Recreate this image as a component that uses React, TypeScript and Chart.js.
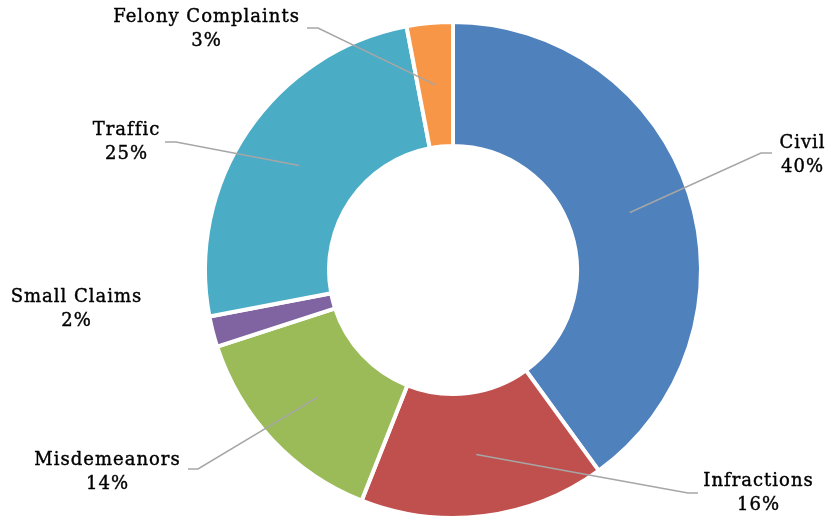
import React, { useEffect, useRef } from "react";
import { Chart, registerables } from "chart.js";

Chart.register(...registerables);

const categories = ["Civil", "Infractions", "Misdemeanors", "Small Claims", "Traffic", "Felony Complaints"];
const shares = [40, 16, 14, 2, 25, 3];
const percentLabels = ["40%", "16%", "14%", "2%", "25%", "3%"];
const sliceColors = ["#4F81BD", "#C0504D", "#9BBB59", "#8064A2", "#4BACC6", "#F79646"];

// label placement relative to the doughnut centre (text centre, elbow, line end)
const labelLayout = [
  { tx: 349, ty: -115, ex: 308, ey: -117, lx: 319, line: true },
  { tx: 305, ty: 223, ex: 235, ey: 223, lx: 245, line: true },
  { tx: -346, ty: 202, ex: -255, ey: 199, lx: -265, line: true },
  { tx: -377, ty: 39, ex: 0, ey: 0, lx: 0, line: false },
  { tx: -327, ty: -128, ex: -277, ey: -128, lx: -288, line: true },
  { tx: -247, ty: -241, ex: -135, ey: -242, lx: -146, line: true },
];

const FONT = '18px "DejaVu Serif"';

const labelPlugin = {
  id: "leaderLabels",
  afterDatasetsDraw(chart: any) {
    const ctx = chart.ctx;
    const meta = chart.getDatasetMeta(0);
    ctx.save();
    meta.data.forEach((arc: any, i: number) => {
      const p = arc.getProps(["x", "y", "startAngle", "endAngle", "innerRadius", "outerRadius"], true);
      const cx = p.x, cy = p.y;
      const mid = (p.startAngle + p.endAngle) / 2;
      const r = (p.innerRadius + p.outerRadius) / 2;
      const L = labelLayout[i];
      if (L.line) {
        const sx = cx + Math.cos(mid) * r;
        const sy = cy + Math.sin(mid) * r;
        ctx.beginPath();
        ctx.strokeStyle = "#A6A6A6";
        ctx.lineWidth = 1.5;
        ctx.moveTo(sx, sy);
        ctx.lineTo(cx + L.ex, cy + L.ey);
        ctx.lineTo(cx + L.lx, cy + L.ey);
        ctx.stroke();
      }
      ctx.fillStyle = "#000000";
      ctx.strokeStyle = "#000000";
      ctx.lineWidth = 0.4;
      ctx.font = FONT;
      (ctx as any).letterSpacing = "1px";
      ctx.textAlign = "center";
      ctx.textBaseline = "middle";
      const x = cx + L.tx + 0.5;
      ctx.fillText(categories[i], x, cy + L.ty - 12);
      ctx.strokeText(categories[i], x, cy + L.ty - 12);
      ctx.fillText(percentLabels[i], x, cy + L.ty + 12.5);
      ctx.strokeText(percentLabels[i], x, cy + L.ty + 12.5);
    });
    ctx.restore();
  },
};

export default function App() {
  const ref = useRef<HTMLCanvasElement>(null);
  useEffect(() => {
    if (!ref.current) return;
    const chart = new Chart(ref.current, {
      type: "doughnut",
      data: {
        labels: categories,
        datasets: [
          {
            data: shares,
            backgroundColor: sliceColors,
            borderColor: "#FFFFFF",
            borderWidth: 4,
          },
        ],
      },
      options: {
        animation: false,
        responsive: true,
        maintainAspectRatio: false,
        cutout: "50%",
        layout: { padding: { top: 20, bottom: 0, left: 203, right: 125 } },
        plugins: {
          legend: { display: false },
          tooltip: { enabled: false },
        },
      },
      plugins: [labelPlugin],
    });
    return () => chart.destroy();
  }, []);
  return (
    <div style={{ position: "fixed", left: 0, top: 0, width: 828, height: 520, background: "#fff" }}>
      <canvas ref={ref} />
    </div>
  );
}
